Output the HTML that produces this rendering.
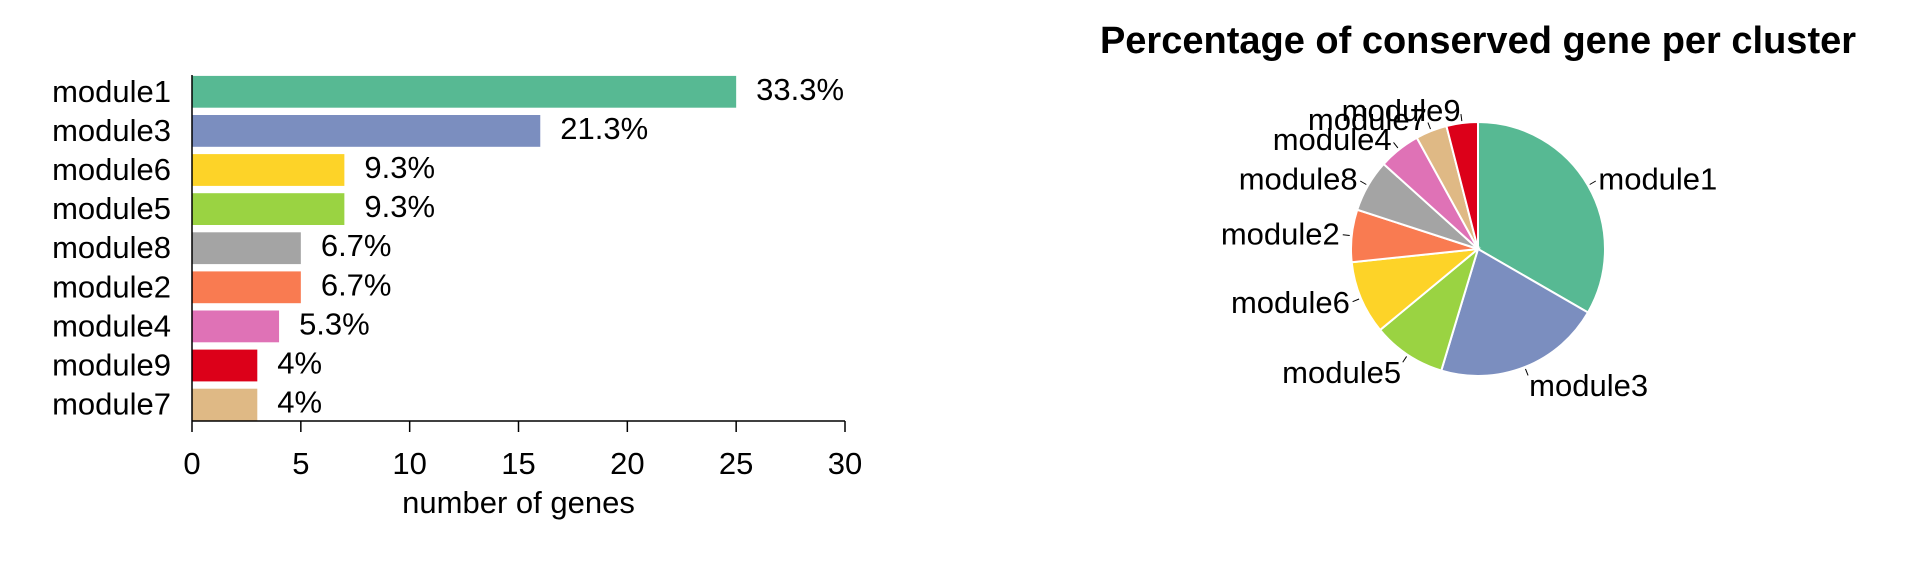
<!DOCTYPE html>
<html><head><meta charset="utf-8"><style>
body{margin:0;background:#fff;}
svg text{font-family:"Liberation Sans",Arial,sans-serif;fill:#000;}
</style></head><body>
<svg id="chart" width="1920" height="576" viewBox="0 0 1920 576" xmlns="http://www.w3.org/2000/svg">
<g id="bar"></g>
<g id="pie"></g>
</svg>
<script>
const categories=["module1","module3","module6","module5","module8","module2","module4","module9","module7"];
const counts=[25,16,7,7,5,5,4,3,3];
const pctLabels=["33.3%","21.3%","9.3%","9.3%","6.7%","6.7%","5.3%","4%","4%"];
const xTicks=[0,5,10,15,20,25,30];
const pieCats=["module1","module3","module5","module6","module2","module8","module4","module7","module9"];
const pieVals=[25,16,7,7,5,5,4,3,3];
const colorsBar=["#57b993","#7b8ebf","#fdd328","#9ad342","#a4a4a4","#f97b51","#df72b6","#dc0019","#dfb985"];
const pieColors=["#57b993","#7b8ebf","#9ad342","#fdd328","#f97b51","#a4a4a4","#df72b6","#dfb985","#dc0019"];
const NS="http://www.w3.org/2000/svg";
const FS=31;
function mk(t,a,p){const e=document.createElementNS(NS,t);for(const k in a)e.setAttribute(k,a[k]);p.appendChild(e);return e;}
const bar=document.getElementById('bar');
const x0=192,x1=845,xMax=30;
const xs=v=>x0+(x1-x0)*v/xMax;
const y0=91.8,pitch=39.1,bh=31.8;
const ys=i=>y0+i*pitch;
categories.forEach((c,i)=>{
  const r=mk('rect',{x:xs(0),y:ys(i)-bh/2,width:xs(counts[i])-xs(0),height:bh,fill:colorsBar[i]},bar);
  
  
  const l=mk('text',{x:171,y:ys(i)+10,'font-size':FS,'text-anchor':'end'},bar);l.textContent=c;
  
  
  const p=mk('text',{x:xs(counts[i])+20,y:ys(i)+8,'font-size':FS},bar);p.textContent=pctLabels[i];
  
  
});
const ya=mk('line',{x1:x0,y1:75,x2:x0,y2:421,stroke:'#000','stroke-width':1.5},bar);


const xa=mk('line',{x1:x0,y1:421,x2:x1,y2:421,stroke:'#000','stroke-width':1.5},bar);


xTicks.forEach(t=>{
  mk('line',{x1:xs(t),y1:421,x2:xs(t),y2:432,stroke:'#000','stroke-width':1.5},bar);
  const tl=mk('text',{x:xs(t),y:474,'font-size':FS,'text-anchor':'middle'},bar);tl.textContent=t;
  
  
});
const xt=mk('text',{x:(x0+x1)/2,y:513,'font-size':FS,'text-anchor':'middle'},bar);xt.textContent='number of genes';



const pie=document.getElementById('pie');
const cx=1478,cy=249,R=127;
const ti=mk('text',{x:cx,y:53,'font-size':38,'font-weight':'bold','text-anchor':'middle'},pie);ti.textContent='Percentage of conserved gene per cluster';


const tot=pieVals.reduce((a,b)=>a+b,0);
let acc=0;
const pt=(a,r)=>[cx+r*Math.sin(a),cy-r*Math.cos(a)];
pieVals.forEach((v,i)=>{
  const a0=acc/tot*2*Math.PI;acc+=v;const a1=acc/tot*2*Math.PI;
  const [sx,sy]=pt(a0,R),[ex,ey]=pt(a1,R);
  const s=mk('path',{d:`M${cx},${cy}L${sx},${sy}A${R},${R} 0 ${a1-a0>Math.PI?1:0} 1 ${ex},${ey}Z`,fill:pieColors[i],stroke:'#fff','stroke-width':2},pie);
  
  
  const am=(a0+a1)/2;
  const [lx1,ly1]=pt(am,R+2),[lx2,ly2]=pt(am,R+9);
  mk('line',{x1:lx1,y1:ly1,x2:lx2,y2:ly2,stroke:'#000','stroke-width':1},pie);
  const [tx,ty]=pt(am,R+12);
  const right=Math.sin(am)>=0;
  const t=mk('text',{x:tx,y:ty+10+(Math.cos(am)<-0.5?8:0),'font-size':FS,'text-anchor':right?'start':'end'},pie);t.textContent=pieCats[i];
  
  
});
</script>
</body></html>
